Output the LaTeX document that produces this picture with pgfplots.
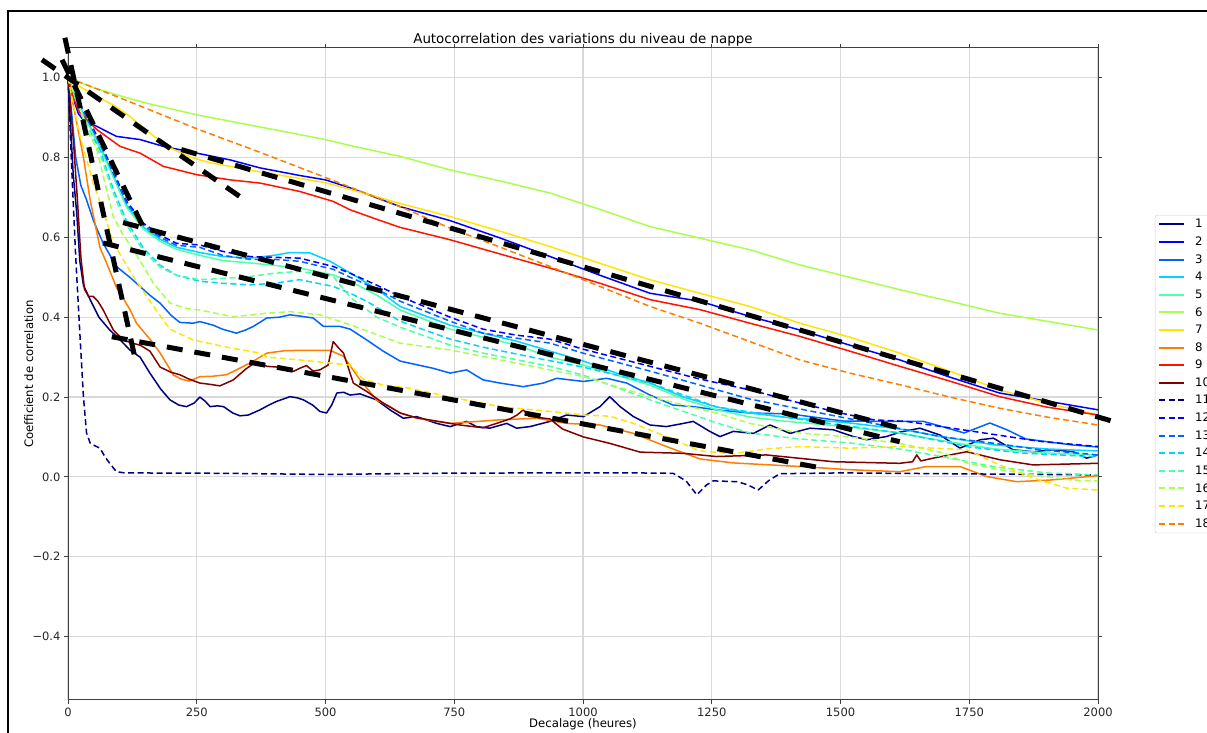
\documentclass[border=0pt]{standalone}
\usepackage{fontspec}
\setmainfont{DejaVu Sans}
\usepackage{pgfplots}
\pgfplotsset{compat=1.18}
\definecolor{jetA}{rgb}{0,0,0.5}
\definecolor{jetB}{rgb}{0,0,1}
\definecolor{jetC}{rgb}{0,0.39,1}
\definecolor{jetD}{rgb}{0,0.83,1}
\definecolor{jetE}{rgb}{0.30,1,0.66}
\definecolor{jetF}{rgb}{0.66,1,0.30}
\definecolor{jetG}{rgb}{1,0.90,0}
\definecolor{jetH}{rgb}{1,0.49,0}
\definecolor{jetI}{rgb}{1,0.08,0}
\definecolor{jetJ}{rgb}{0.5,0,0}
\tikzset{
  serline/.style={line width=1.5pt, line join=round, solid},
  dshline/.style={line width=1.5pt, line join=round, dash pattern=on 6pt off 3.5pt},
}
\pgfplotsset{
  blk/.style={black, line width=5pt, dash pattern=on 16pt off 12pt, line cap=butt, forget plot},
}
\begin{document}
\begin{tikzpicture}[x=1pt,y=1pt]
\useasboundingbox (0,0) rectangle (1207,733);
\draw[line width=2pt] (7.5,-5) -- (7.5,722.3) -- (1215,722.3);
\begin{axis}[
  at={(68pt,33pt)}, anchor=south west, scale only axis,
  width=1030pt, height=652pt,
  xmin=0, xmax=2000, ymin=-0.5589, ymax=1.0744,
  clip=false, no markers,
  xtick={0,250,500,750,1000,1250,1500,1750,2000},
  xticklabels={0,250,500,750,1000,1250,1500,1750,2000},
  ytick={-0.4,-0.2,0,0.2,0.4,0.6,0.8,1.0},
  yticklabels={−0.4,−0.2,0.0,0.2,0.4,0.6,0.8,1.0},
  grid=major, grid style={black!15, line width=1.2pt},
  axis line style={black!75, line width=1pt},
  tick style={black!75, line width=1pt},
  tick align=outside, major tick length=4pt,
  every tick label/.append style={font=\fontsize{11.5}{13.8}\selectfont, text=black!85},
  title={Autocorrelation des variations du niveau de nappe},
  title style={at={(axis description cs:0.5,1)}, anchor=base, yshift=-2pt, font=\fontsize{13.4}{16}\selectfont},
  xlabel={Decalage (heures)},
  xlabel style={at={(axis description cs:0.5,-0.037)}, anchor=center, font=\fontsize{11.7}{14}\selectfont},
  ylabel={Coefficient de correlation},
  ylabel style={at={(axis description cs:-0.038,0.5)}, anchor=center, font=\fontsize{11.7}{14}\selectfont},
  legend cell align=left,
  legend style={at={(axis description cs:1.0553,0.7439)}, anchor=north west,
    draw=black!20, rounded corners=2pt, inner xsep=3pt, inner ysep=0.5pt,
    font=\fontsize{11.7}{14}\selectfont, column sep=10pt, row sep=0pt,
    nodes={inner xsep=0pt, inner ysep=0pt, minimum height=17.6pt}},
  legend image code/.code={\draw[#1, line width=2pt] (0pt,0pt) -- (25pt,0pt);},
]
% 1
\addplot[serline, color=jetA] coordinates {(0,1.0)(5,0.88)(10,0.76)(17,0.66)(23,0.54)(30,0.48)(43,0.444)(60,0.40)(81,0.368)(100,0.345)(120,0.318)(140,0.30)(159,0.26)(180,0.22)(198,0.193)(215,0.18)(230,0.176)(245,0.185)(256,0.20)(266,0.19)(276,0.176)(290,0.178)(302,0.176)(320,0.16)(334,0.153)(350,0.155)(373,0.168)(390,0.18)(405,0.189)(431,0.201)(445,0.198)(457,0.193)(475,0.18)(489,0.164)(502,0.16)(512,0.18)(522,0.21)(535,0.212)(548,0.205)(567,0.208)(599,0.193)(625,0.168)(651,0.147)(677,0.151)(716,0.134)(742,0.126)(774,0.139)(793,0.126)(819,0.122)(852,0.134)(871,0.122)(897,0.126)(936,0.139)(968,0.155)(1001,0.151)(1033,0.176)(1052,0.201)(1072,0.176)(1098,0.151)(1130,0.13)(1162,0.126)(1195,0.134)(1214,0.139)(1246,0.114)(1266,0.101)(1292,0.114)(1331,0.109)(1363,0.13)(1402,0.109)(1441,0.122)(1486,0.118)(1525,0.101)(1551,0.093)(1589,0.101)(1615,0.112)(1654,0.122)(1693,0.105)(1732,0.072)(1771,0.093)(1797,0.097)(1835,0.068)(1874,0.063)(1913,0.068)(1952,0.063)(1978,0.047)(2000,0.055)};
\addlegendentry{1}
% 2
\addplot[serline, color=jetB] coordinates {(0,1.0)(10,0.95)(20,0.91)(29,0.895)(56,0.878)(94,0.853)(140,0.845)(185,0.828)(250,0.811)(315,0.794)(373,0.774)(450,0.755)(500,0.744)(548,0.724)(645,0.677)(742,0.642)(840,0.598)(936,0.552)(1033,0.505)(1130,0.46)(1227,0.44)(1324,0.402)(1421,0.368)(1518,0.33)(1615,0.293)(1712,0.25)(1809,0.21)(1900,0.19)(2000,0.168)};
\addlegendentry{2}
% 3
\addplot[serline, color=jetC] coordinates {(0,1.0)(8,0.90)(15,0.80)(25,0.73)(36,0.694)(50,0.64)(68,0.586)(94,0.527)(120,0.50)(133,0.485)(159,0.455)(179,0.435)(200,0.405)(217,0.387)(243,0.385)(256,0.389)(282,0.38)(300,0.37)(327,0.36)(345,0.368)(360,0.377)(386,0.398)(410,0.40)(431,0.406)(455,0.402)(476,0.398)(496,0.377)(528,0.377)(548,0.37)(580,0.343)(612,0.315)(645,0.29)(709,0.272)(742,0.26)(774,0.268)(806,0.243)(839,0.235)(884,0.226)(923,0.235)(949,0.247)(1001,0.239)(1046,0.247)(1085,0.235)(1130,0.205)(1175,0.18)(1214,0.176)(1259,0.168)(1324,0.16)(1400,0.158)(1505,0.14)(1596,0.139)(1661,0.139)(1700,0.125)(1740,0.11)(1790,0.135)(1823,0.118)(1860,0.095)(1950,0.08)(2000,0.075)};
\addlegendentry{3}
% 4
\addplot[serline, color=jetD] coordinates {(0,1.0)(20,0.935)(50,0.86)(69,0.81)(95,0.735)(114,0.68)(147,0.625)(179,0.595)(211,0.575)(256,0.562)(300,0.552)(353,0.548)(400,0.555)(431,0.562)(470,0.561)(509,0.54)(548,0.511)(600,0.47)(645,0.427)(742,0.38)(806,0.36)(871,0.34)(936,0.315)(1001,0.29)(1065,0.26)(1130,0.235)(1195,0.20)(1260,0.175)(1324,0.16)(1389,0.15)(1518,0.135)(1615,0.12)(1700,0.10)(1800,0.08)(1900,0.07)(2000,0.065)};
\addlegendentry{4}
% 5
\addplot[serline, color=jetE] coordinates {(0,1.0)(20,0.935)(50,0.855)(69,0.805)(95,0.73)(114,0.675)(147,0.62)(179,0.59)(211,0.57)(256,0.555)(300,0.542)(353,0.536)(400,0.53)(450,0.523)(515,0.506)(548,0.49)(600,0.455)(645,0.418)(742,0.37)(806,0.35)(871,0.33)(936,0.30)(1001,0.28)(1065,0.255)(1130,0.23)(1195,0.195)(1260,0.168)(1324,0.15)(1389,0.14)(1518,0.125)(1615,0.11)(1700,0.09)(1800,0.07)(1900,0.06)(2000,0.055)};
\addlegendentry{5}
% 6
\addplot[serline, color=jetF] coordinates {(0,1.0)(50,0.975)(100,0.955)(150,0.937)(250,0.907)(375,0.876)(500,0.845)(548,0.83)(645,0.803)(742,0.769)(840,0.741)(936,0.711)(1033,0.67)(1130,0.627)(1227,0.598)(1324,0.569)(1421,0.531)(1518,0.50)(1615,0.469)(1712,0.44)(1809,0.41)(1900,0.39)(2000,0.368)};
\addlegendentry{6}
% 7
\addplot[serline, color=jetG] coordinates {(0,1.0)(20,0.98)(56,0.953)(90,0.93)(120,0.903)(160,0.86)(198,0.824)(240,0.80)(276,0.787)(373,0.764)(500,0.737)(548,0.72)(645,0.685)(742,0.652)(840,0.615)(936,0.577)(1033,0.535)(1130,0.494)(1227,0.46)(1324,0.427)(1421,0.385)(1518,0.35)(1615,0.31)(1712,0.265)(1809,0.218)(1900,0.185)(2000,0.155)};
\addlegendentry{7}
% 8
\addplot[serline, color=jetH] coordinates {(0,1.0)(15,0.90)(30,0.80)(43,0.694)(62,0.575)(80,0.52)(94,0.475)(120,0.42)(133,0.385)(159,0.345)(179,0.31)(205,0.255)(220,0.245)(235,0.24)(256,0.251)(280,0.252)(308,0.256)(330,0.27)(353,0.285)(386,0.31)(420,0.316)(450,0.317)(509,0.317)(535,0.302)(567,0.243)(599,0.193)(625,0.176)(645,0.16)(677,0.147)(742,0.134)(839,0.143)(910,0.147)(968,0.134)(1033,0.130)(1098,0.109)(1162,0.076)(1227,0.045)(1292,0.035)(1421,0.026)(1518,0.018)(1615,0.013)(1667,0.026)(1732,0.026)(1783,0.001)(1842,-0.012)(1906,-0.008)(2000,0.003)};
\addlegendentry{8}
% 9
\addplot[serline, color=jetI] coordinates {(0,1.0)(10,0.95)(23,0.912)(56,0.87)(101,0.828)(140,0.811)(185,0.778)(250,0.757)(315,0.744)(373,0.736)(450,0.715)(515,0.69)(548,0.669)(600,0.645)(645,0.625)(742,0.594)(840,0.558)(936,0.523)(1033,0.485)(1130,0.444)(1227,0.419)(1324,0.385)(1421,0.352)(1518,0.315)(1615,0.277)(1712,0.24)(1809,0.201)(1900,0.175)(2000,0.155)};
\addlegendentry{9}
% 10
\addplot[serline, color=jetJ] coordinates {(0,1.0)(10,0.85)(18,0.70)(25,0.55)(32,0.47)(40,0.452)(49,0.452)(58,0.44)(68,0.419)(88,0.368)(107,0.343)(125,0.335)(140,0.33)(159,0.315)(179,0.275)(200,0.262)(217,0.256)(235,0.245)(256,0.235)(275,0.232)(295,0.228)(321,0.243)(345,0.27)(366,0.289)(386,0.277)(418,0.274)(437,0.264)(450,0.272)(463,0.279)(476,0.265)(489,0.268)(505,0.28)(515,0.339)(524,0.325)(535,0.31)(554,0.235)(580,0.214)(612,0.185)(645,0.16)(677,0.148)(761,0.13)(806,0.123)(858,0.145)(872,0.155)(884,0.168)(895,0.152)(936,0.145)(960,0.12)(1001,0.10)(1052,0.084)(1111,0.062)(1195,0.059)(1259,0.051)(1356,0.055)(1486,0.038)(1615,0.034)(1640,0.038)(1648,0.055)(1656,0.04)(1680,0.047)(1745,0.063)(1809,0.043)(1874,0.030)(2000,0.034)};
\addlegendentry{10}
% 11
\addplot[dshline, color=jetA] coordinates {(0,1.0)(8,0.75)(15,0.55)(23,0.36)(30,0.2)(36,0.11)(43,0.085)(49,0.08)(62,0.072)(72,0.05)(81,0.034)(94,0.013)(110,0.01)(300,0.009)(500,0.006)(700,0.009)(900,0.01)(1100,0.01)(1175,0.009)(1200,-0.01)(1221,-0.045)(1240,-0.02)(1253,-0.01)(1300,-0.012)(1320,-0.02)(1340,-0.033)(1360,-0.01)(1382,0.008)(1500,0.01)(1700,0.008)(2000,0.005)};
\addlegendentry{11}
% 12
\addplot[dshline, color=jetB] coordinates {(0,1.0)(20,0.94)(50,0.87)(69,0.82)(95,0.745)(114,0.69)(147,0.635)(179,0.605)(211,0.585)(256,0.581)(300,0.565)(353,0.552)(400,0.55)(450,0.548)(515,0.527)(548,0.51)(600,0.48)(645,0.452)(742,0.40)(806,0.37)(871,0.355)(936,0.345)(1000,0.32)(1130,0.277)(1227,0.245)(1324,0.218)(1421,0.185)(1500,0.16)(1564,0.143)(1628,0.139)(1758,0.114)(1887,0.089)(2000,0.076)};
\addlegendentry{12}
% 13
\addplot[dshline, color=jetC] coordinates {(0,1.0)(20,0.94)(50,0.865)(69,0.815)(95,0.74)(114,0.685)(147,0.63)(179,0.60)(211,0.58)(256,0.575)(300,0.555)(353,0.545)(400,0.545)(450,0.54)(515,0.52)(548,0.50)(600,0.47)(645,0.44)(742,0.39)(806,0.36)(936,0.335)(1000,0.31)(1130,0.265)(1227,0.23)(1324,0.195)(1500,0.15)(1596,0.126)(1693,0.101)(1823,0.08)(1887,0.068)(2000,0.055)};
\addlegendentry{13}
% 14
\addplot[dshline, color=jetD] coordinates {(0,1.0)(20,0.93)(40,0.87)(62,0.82)(88,0.72)(114,0.64)(147,0.572)(179,0.53)(211,0.505)(256,0.49)(300,0.485)(353,0.481)(400,0.485)(450,0.494)(515,0.477)(548,0.46)(580,0.44)(645,0.39)(742,0.345)(806,0.325)(900,0.30)(1000,0.275)(1130,0.235)(1260,0.175)(1389,0.15)(1500,0.13)(1615,0.11)(1750,0.075)(1850,0.06)(2000,0.05)};
\addlegendentry{14}
% 15
\addplot[dshline, color=jetE] coordinates {(0,1.0)(20,0.93)(40,0.86)(62,0.81)(88,0.71)(114,0.63)(147,0.565)(179,0.525)(211,0.505)(256,0.494)(300,0.497)(353,0.502)(400,0.51)(450,0.515)(515,0.502)(548,0.45)(600,0.40)(645,0.375)(742,0.33)(806,0.31)(936,0.277)(1000,0.255)(1130,0.193)(1260,0.135)(1324,0.11)(1421,0.095)(1518,0.085)(1615,0.07)(1700,0.05)(1800,0.025)(1900,0.01)(2000,0.005)};
\addlegendentry{15}
% 16
\addplot[dshline, color=jetF] coordinates {(0,1.0)(30,0.90)(56,0.82)(75,0.72)(88,0.652)(105,0.61)(127,0.569)(150,0.52)(166,0.485)(198,0.435)(230,0.422)(256,0.418)(321,0.401)(386,0.41)(431,0.414)(489,0.406)(548,0.381)(645,0.335)(742,0.318)(871,0.285)(1001,0.251)(1130,0.201)(1259,0.16)(1324,0.134)(1421,0.11)(1518,0.10)(1615,0.084)(1700,0.06)(1745,0.035)(1800,0.02)(1874,0.005)(1950,-0.008)(2000,-0.01)};
\addlegendentry{16}
% 17
\addplot[dshline, color=jetG] coordinates {(0,1.0)(20,0.87)(49,0.736)(68,0.669)(88,0.586)(127,0.502)(166,0.427)(198,0.37)(243,0.343)(308,0.325)(373,0.31)(386,0.30)(450,0.293)(509,0.285)(548,0.28)(573,0.245)(612,0.23)(664,0.222)(742,0.20)(839,0.176)(936,0.164)(1001,0.155)(1052,0.152)(1098,0.134)(1162,0.101)(1227,0.065)(1292,0.058)(1356,0.07)(1421,0.076)(1518,0.072)(1615,0.076)(1680,0.072)(1745,0.068)(1809,0.03)(1874,-0.003)(1939,-0.028)(2000,-0.033)};
\addlegendentry{17}
% 18
\addplot[dshline, color=jetH] coordinates {(0,1.0)(100,0.95)(250,0.872)(375,0.812)(500,0.75)(645,0.677)(742,0.623)(840,0.575)(936,0.527)(1033,0.477)(1130,0.427)(1227,0.385)(1324,0.339)(1421,0.293)(1518,0.26)(1615,0.231)(1712,0.20)(1809,0.172)(1900,0.15)(2000,0.13)};
\addlegendentry{18}
% black tangent lines
\addplot[blk] coordinates {(-50.5,1.045)(334,0.702)};
\addplot[blk] coordinates {(220,0.82)(2040,0.135)};
\addplot[blk] coordinates {(-6,1.10)(130,0.298)};
\addplot[blk] coordinates {(-11.6,1.045)(153,0.607)};
\addplot[blk] coordinates {(107,0.637)(1612,0.123)};
\addplot[blk] coordinates {(68,0.586)(1615,0.088)};
\addplot[blk] coordinates {(85,0.351)(1460,0.023)};
\end{axis}
\end{tikzpicture}
\end{document}
